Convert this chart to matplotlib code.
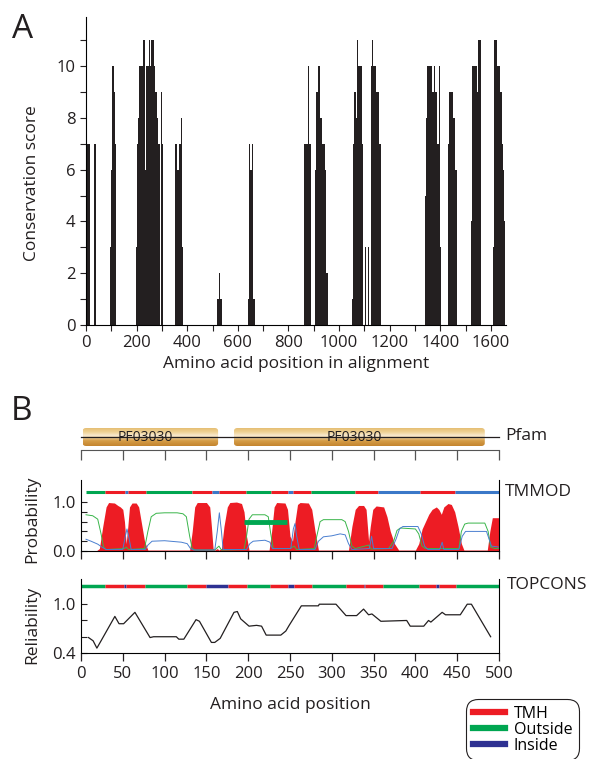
import numpy as np
import matplotlib
matplotlib.use('Agg')
import matplotlib.pyplot as plt
from matplotlib.patches import FancyBboxPatch
from matplotlib.colors import LinearSegmentedColormap
from matplotlib.lines import Line2D
from matplotlib.ticker import MultipleLocator

plt.rcParams['font.family'] = ['Open Sans', 'DejaVu Sans']

# ---- panel A: conservation score, stored as runs (start, end, score)
cons_start = [0, 10, 12, 32, 35, 37, 95, 98, 102, 104, 109, 112, 114, 133,
              197, 200, 203, 206, 211, 224, 234, 236, 250, 254, 256, 270, 274, 280, 286, 295, 298, 300, 303,
              352, 358, 360, 366, 368, 376, 378,
              519, 525, 528,
              642, 645, 647, 650, 656, 658, 660,
              862, 865, 867, 872, 874, 878, 880,
              905, 910, 915, 925, 932, 945, 950,
              1050, 1054, 1056, 1060, 1066, 1070, 1073, 1075, 1090,
              1104, 1115, 1118,
              1128, 1131, 1134, 1148, 1158,
              1339, 1344, 1349, 1355, 1357, 1366, 1376, 1378, 1386, 1396, 1398,
              1432, 1434, 1436, 1452, 1460, 1477,
              1521, 1524, 1546, 1550, 1560,
              1608, 1613, 1626, 1636, 1643, 1649, 1653]
cons_end = [10, 12, 14, 35, 37, 39, 98, 102, 104, 109, 112, 114, 119, 136,
            200, 203, 206, 211, 224, 234, 236, 250, 254, 256, 270, 274, 280, 286, 292, 298, 300, 303, 306,
            358, 360, 366, 368, 376, 378, 382,
            525, 528, 536,
            645, 647, 650, 656, 658, 660, 668,
            865, 867, 872, 874, 878, 880, 888,
            910, 915, 925, 932, 945, 950, 955,
            1054, 1056, 1060, 1066, 1070, 1073, 1075, 1090, 1095,
            1106, 1117, 1120,
            1131, 1134, 1148, 1158, 1164,
            1344, 1349, 1355, 1357, 1366, 1376, 1378, 1386, 1396, 1398, 1402,
            1434, 1436, 1452, 1460, 1466, 1479,
            1524, 1546, 1550, 1560, 1562,
            1613, 1626, 1636, 1643, 1649, 1653, 1657]
cons_score = [7, 10, 7, 7, 8, 7, 3, 6, 11, 10, 8, 9, 7, 6,
              3, 4, 7, 8, 10, 11, 6, 10, 11, 10, 11, 10, 9, 8, 7, 7, 9, 7, 1,
              7, 8, 6, 9, 7, 8, 3,
              1, 2, 1,
              1, 7, 4, 6, 1, 7, 1,
              7, 10, 7, 5, 7, 10, 7,
              6, 9, 10, 8, 7, 6, 2,
              1, 10, 7, 9, 8, 10, 11, 10, 7,
              3, 3, 6,
              10, 11, 10, 9, 7,
              5, 8, 10, 11, 10, 9, 10, 9, 7, 10, 3,
              7, 10, 9, 8, 6, 9,
              4, 10, 9, 11, 4,
              3, 11, 10, 9, 7, 6, 4]

# ---- panel B
pfam_start = [2, 183]
pfam_end = [164, 483]
pfam_name = ['PF03030', 'PF03030']

tmmod_seg_start = [6, 29, 53, 56, 78, 133, 157, 165, 197, 227, 248, 254, 275, 328, 355, 405, 447]
tmmod_seg_end = [29, 53, 56, 78, 133, 157, 165, 197, 227, 248, 254, 275, 328, 355, 405, 447, 500]
tmmod_seg_type = ['out', 'tmh', 'in', 'tmh', 'out', 'tmh', 'in', 'tmh', 'out', 'tmh', 'in', 'tmh',
                  'out', 'tmh', 'in', 'tmh', 'in']

topcons_seg_start = [0, 29, 51, 54, 76, 127, 149, 176, 199, 226, 248, 255, 276, 317, 338, 340, 361, 404, 425, 428, 449]
topcons_seg_end = [29, 51, 54, 76, 127, 149, 176, 199, 226, 248, 255, 276, 317, 338, 340, 361, 404, 425, 428, 449, 500]
topcons_seg_type = ['out', 'tmh', 'in', 'tmh', 'out', 'tmh', 'in', 'tmh', 'out', 'tmh', 'in', 'tmh',
                    'out', 'tmh', 'in', 'tmh', 'out', 'tmh', 'in', 'tmh', 'out']

tm_pos = [0, 18, 22, 26, 30, 33, 40, 44, 47, 50, 52, 54, 56, 58, 61, 66, 69, 72, 76, 80,
          130, 133, 136, 139, 150, 154, 156, 158, 160, 163, 165, 168, 171, 175, 178, 186, 192, 195, 198, 201,
          225, 228, 231, 234, 244, 247, 250, 253, 256, 259, 262, 272, 276, 280, 284,
          320, 324, 328, 332, 338, 341, 344, 346, 349, 353, 362, 366, 370, 375, 380,
          400, 404, 408, 412, 416, 420, 425, 428, 431, 434, 439, 443, 447, 451, 455, 458,
          486, 489, 492, 500]
tm_prob = [0, 0, 0.05, 0.5, 0.9, 0.99, 0.98, 0.93, 0.9, 0.85, 0.6, 0.15, 0.5, 0.9, 0.98, 0.98, 0.9, 0.6, 0.2, 0.02,
           0.02, 0.4, 0.9, 0.99, 0.99, 0.9, 0.5, 0.05, 0.02, 0.05, 0.02, 0.05, 0.5, 0.9, 0.99, 1.0, 0.97, 0.8, 0.3, 0.02,
           0.02, 0.4, 0.9, 0.99, 0.98, 0.85, 0.3, 0.2, 0.6, 0.95, 0.99, 0.98, 0.85, 0.4, 0.02,
           0.02, 0.5, 0.85, 0.93, 0.93, 0.85, 0.2, 0.5, 0.85, 0.92, 0.9, 0.7, 0.4, 0.15, 0.02,
           0.02, 0.15, 0.45, 0.6, 0.75, 0.85, 0.9, 0.85, 0.75, 0.9, 0.97, 0.95, 0.8, 0.5, 0.15, 0.02,
           0.02, 0.4, 0.68, 0.68]

out_pos = [6, 14, 20, 24, 27, 30, 52, 54, 57, 76, 80, 84, 90, 100, 115, 122, 126, 130, 133, 137,
           160, 165, 168, 195, 198, 201, 205, 220, 224, 227, 230, 250, 255, 258, 279, 282, 286, 290,
           312, 316, 320, 324, 328, 344, 347, 368, 374, 378, 382, 400, 404, 408, 412, 435, 452, 455,
           459, 463, 483, 487, 490, 495, 500]
out_prob = [0.74, 0.72, 0.65, 0.35, 0.08, 0.03, 0.05, 0.08, 0.03, 0.05, 0.4, 0.7, 0.77, 0.78, 0.78, 0.76, 0.7, 0.3, 0.05, 0.02,
            0.02, 0.1, 0.02, 0.03, 0.3, 0.65, 0.74, 0.74, 0.7, 0.35, 0.05, 0.05, 0.1, 0.03, 0.05, 0.3, 0.6, 0.64,
            0.64, 0.6, 0.4, 0.1, 0.05, 0.12, 0.04, 0.05, 0.2, 0.42, 0.47, 0.45, 0.35, 0.1, 0.05, 0.05, 0.05, 0.4,
            0.55, 0.57, 0.57, 0.4, 0.08, 0.05, 0.05]

in_pos = [6, 12, 20, 25, 30, 50, 53, 55, 57, 60, 77, 80, 85, 100, 120, 127, 131, 135,
          160, 163, 165.5, 168, 170, 198, 202, 206, 220, 226, 229, 251, 254, 256, 258, 261,
          280, 284, 290, 300, 310, 316, 320, 324, 345, 347.6, 350, 372, 377, 381, 385, 403, 407, 411, 415,
          429, 432, 434, 452, 456, 460, 485, 489, 491, 500]
in_prob = [0.24, 0.2, 0.14, 0.08, 0.03, 0.03, 0.3, 0.45, 0.3, 0.03, 0.03, 0.12, 0.2, 0.21, 0.18, 0.15, 0.05, 0.02,
           0.02, 0.4, 0.78, 0.4, 0.03, 0.03, 0.15, 0.2, 0.22, 0.18, 0.05, 0.05, 0.45, 0.56, 0.3, 0.03,
           0.03, 0.2, 0.29, 0.31, 0.35, 0.33, 0.15, 0.03, 0.05, 0.3, 0.05, 0.05, 0.25, 0.45, 0.5, 0.5, 0.35, 0.1, 0.03,
           0.03, 0.18, 0.03, 0.03, 0.3, 0.4, 0.4, 0.2, 0.1, 0.08]

tmmod_extra_start = 195
tmmod_extra_end = 246
tmmod_extra_prob = 0.59

rel_pos = [9, 14.5, 19, 24, 40.5, 45.5, 51, 64.5, 82.6, 86.8, 114, 117, 123, 137.6, 141.7, 156, 160, 166.5,
           183, 187, 191, 201, 210, 216, 221.5, 239, 245, 249, 263.6, 284, 285, 305, 317, 329.7, 338, 344,
           348, 358.7, 389.6, 393.8, 410, 415.7, 418.5, 432, 436, 453.7, 462, 467, 490]
rel_val = [0.59, 0.55, 0.46, 0.55, 0.85, 0.76, 0.76, 0.90, 0.59, 0.60, 0.60, 0.57, 0.57, 0.81, 0.79, 0.53, 0.53, 0.58,
           0.90, 0.91, 0.82, 0.73, 0.74, 0.73, 0.62, 0.62, 0.67, 0.74, 0.98, 0.98, 1.0, 1.0, 0.86, 0.86, 0.94, 0.87,
           0.88, 0.79, 0.80, 0.73, 0.73, 0.80, 0.78, 0.90, 0.87, 0.87, 1.0, 1.0, 0.60]

RED = '#ed1c24'
GREEN = '#00a651'
BLUE_T = '#3a78c8'
NAVY = '#2e3192'
INK = '#231f20'
track_col = {'tmh': RED, 'out': GREEN, 'in': BLUE_T}
topcons_col = {'tmh': RED, 'out': GREEN, 'in': NAVY}

fig = plt.figure(figsize=(6, 7.59), dpi=100)

# ---------------- A
axA = fig.add_axes([86/600, 1-325/759, 420/600, 308/759])
widths = np.array(cons_end) - np.array(cons_start)
axA.bar(cons_start, cons_score, width=widths, align='edge', color=INK, linewidth=0)
axA.set_xlim(0, 1660)
axA.set_ylim(0, 11.9)
for s in ['top', 'right']:
    axA.spines[s].set_visible(False)
axA.xaxis.set_major_locator(MultipleLocator(200))
axA.xaxis.set_minor_locator(MultipleLocator(100))
axA.yaxis.set_major_locator(MultipleLocator(2))
axA.yaxis.set_minor_locator(MultipleLocator(1))
axA.tick_params(which='both', direction='out', length=4, width=0.8, labelsize=12, colors=INK)
axA.set_ylabel('Conservation score', fontsize=12.5, color=INK)
axA.yaxis.set_label_coords(-0.11, 0.46)
axA.set_xlabel('Amino acid position in alignment', fontsize=12.5, color=INK)
axA.xaxis.set_label_coords(0.5, -0.1)
fig.text(0.02, 1-38/759, 'A', fontsize=24, color=INK)
fig.text(0.018, 1-420/759, 'B', fontsize=24, color=INK)

# ---------------- Pfam track
axP = fig.add_axes([81/600, 1-450/759, 418/600, 25/759])
axP.set_xlim(0, 500)
axP.set_ylim(0, 1)
axP.plot([0, 500], [0.52, 0.52], color=INK, lw=0.9, clip_on=False)
gold = LinearSegmentedColormap.from_list('gold', [(0, '#c4852f'), (0.3, '#d69e48'), (0.58, '#f8ead0'),
                                                  (0.78, '#efd296'), (1.0, '#e6bf74')])
grad = np.linspace(0, 1, 64).reshape(-1, 1)
for s, e, name in zip(pfam_start, pfam_end, pfam_name):
    box = FancyBboxPatch((s, 0.16), e - s, 0.72, boxstyle='round,pad=0,rounding_size=4',
                         mutation_aspect=0.03, facecolor='none', edgecolor='none')
    axP.add_patch(box)
    im = axP.imshow(grad, extent=(s, e, 0.16, 0.88), origin='lower', cmap=gold, aspect='auto')
    im.set_clip_path(box)
    axP.text((s + e) / 2 - 6, 0.5, name, ha='center', va='center', fontsize=10, color=INK)
axP.set_xlim(0, 500)
axP.set_ylim(0, 1)
for s in ['top', 'right', 'left']:
    axP.spines[s].set_visible(False)
axP.spines['bottom'].set_color('#555555')
axP.xaxis.set_major_locator(MultipleLocator(50))
axP.set_yticks([])
axP.tick_params(axis='x', direction='out', length=7, width=0.9, labelbottom=False, colors='#555555')
fig.text(505/600, 1-436/759, 'Pfam', fontsize=12.5, va='center', color=INK)

# ---------------- TMMOD
axT = fig.add_axes([81/600, 1-551/759, 418/600, 71/759])
axT.fill_between(tm_pos, tm_prob, color=RED, lw=0)
axT.plot(out_pos, out_prob, color='#39b54a', lw=0.7)
axT.plot(in_pos, in_prob, color='#4a7fd0', lw=0.7)
for s, e, t in zip(tmmod_seg_start, tmmod_seg_end, tmmod_seg_type):
    axT.plot([s, e], [1.2, 1.2], color=track_col[t], lw=2.2, solid_capstyle='butt')
axT.plot([tmmod_extra_start, tmmod_extra_end], [tmmod_extra_prob] * 2, color=GREEN, lw=3.5,
         solid_capstyle='butt')
axT.set_xlim(0, 500)
axT.set_ylim(0, 1.45)
axT.spines['top'].set_visible(False)
axT.xaxis.set_major_locator(MultipleLocator(50))
axT.set_yticks([0, 0.2, 0.4, 0.6, 0.8, 1.0], ['0.0', '', '', '', '', '1.0'])
axT.tick_params(axis='y', direction='in', length=4, width=0.8, labelsize=12, colors=INK)
axT.tick_params(axis='x', direction='out', length=6, width=0.9, labelbottom=False, colors=INK)
axT.set_ylabel('Probability', fontsize=12.5, color=INK)
axT.yaxis.set_label_coords(-0.098, 0.45)
fig.text(505/600, 1-492/759, 'TMMOD', fontsize=12.5, va='center', color=INK)

# ---------------- TOPCONS
axC = fig.add_axes([81/600, 1-653/759, 418/600, 74/759])
for s, e, t in zip(topcons_seg_start, topcons_seg_end, topcons_seg_type):
    axC.plot([s, e], [1.23, 1.23], color=topcons_col[t], lw=2.5, solid_capstyle='butt')
axC.plot(rel_pos, rel_val, color=INK, lw=0.9)
axC.set_xlim(0, 500)
axC.set_ylim(0.4, 1.31)
axC.spines['top'].set_visible(False)
axC.xaxis.set_major_locator(MultipleLocator(50))
axC.set_yticks([0.4, 0.6, 0.8, 1.0], ['0.4', '', '', '1.0'])
axC.tick_params(axis='y', direction='in', length=4, width=0.8, labelsize=12, colors=INK)
axC.tick_params(axis='x', direction='out', length=6, width=0.9, labelsize=12, colors=INK)
axC.set_ylabel('Reliability', fontsize=12.5, color=INK)
axC.yaxis.set_label_coords(-0.098, 0.38)
axC.set_xlabel('Amino acid position', fontsize=12.5, color=INK)
axC.xaxis.set_label_coords(0.5, -0.6)
fig.text(507/600, 1-585/759, 'TOPCONS', fontsize=12.5, va='center', color=INK)

handles = [Line2D([], [], color=RED, lw=4.5), Line2D([], [], color=GREEN, lw=4.5), Line2D([], [], color=NAVY, lw=4.5)]
leg = fig.legend(handles, ['TMH', 'Outside', 'Inside'], loc='upper left',
                 bbox_to_anchor=(472/600, 1-705/759), fontsize=11.5, frameon=True, fancybox=True,
                 edgecolor=INK, framealpha=1, handlelength=2.0, handletextpad=0.55,
                 labelspacing=0.0, borderpad=0.05, borderaxespad=0)
leg.get_frame().set_linewidth(0.8)
leg.get_frame().set_boxstyle('round,pad=0.35,rounding_size=0.75')

fig.savefig('out.png', dpi=100)
